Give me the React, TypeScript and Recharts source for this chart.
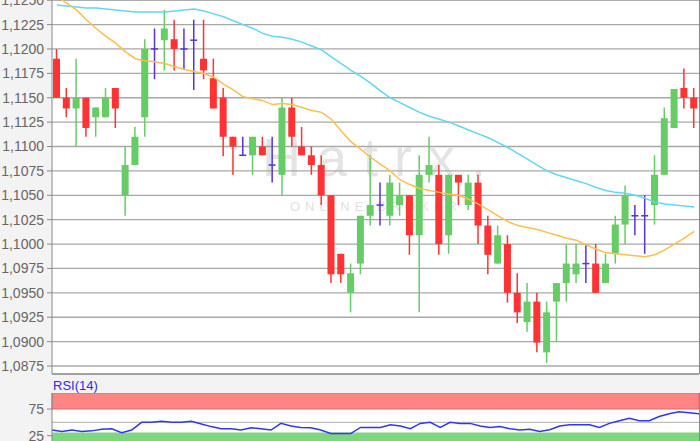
import React from "react";
import {
  Bar,
  CartesianGrid,
  ComposedChart,
  Line,
  ReferenceArea,
  ReferenceLine,
  XAxis,
  YAxis,
} from "recharts";

// candle-by-candle OHLC
const open = [
  1.119, 1.115, 1.1139, 1.115, 1.113, 1.113, 1.116, 1.105, 1.1081, 1.113,
  1.12, 1.1209, 1.121, 1.12, 1.1209, 1.119, 1.117, 1.115, 1.111, 1.1091,
  1.1091, 1.11, 1.1081, 1.1071, 1.114, 1.11, 1.1091, 1.1081, 1.105, 1.099,
  1.095, 1.098, 1.1029, 1.104, 1.1029, 1.104, 1.105, 1.1009, 1.1071, 1.1071,
  1.1009, 1.1071, 1.104, 1.1063, 1.1019, 1.098, 1.1, 1.095, 1.092, 1.0941,
  1.0889, 1.0941, 1.096, 1.0969, 1.098, 1.098, 1.096, 1.099, 1.102, 1.1029,
  1.1029, 1.104, 1.1071, 1.1119, 1.116, 1.115,
];
const high = [
  1.12, 1.116, 1.119, 1.115, 1.114, 1.116, 1.116, 1.11, 1.112, 1.121,
  1.1221, 1.124, 1.123, 1.1221, 1.123, 1.123, 1.119, 1.116, 1.111, 1.111,
  1.111, 1.111, 1.111, 1.115, 1.115, 1.112, 1.11, 1.1091, 1.105, 1.099,
  1.098, 1.1029, 1.1091, 1.1063, 1.1071, 1.1063, 1.105, 1.1091, 1.111, 1.1081,
  1.1071, 1.1071, 1.1071, 1.1071, 1.1029, 1.1019, 1.1009, 1.097, 1.096, 1.095,
  1.0941, 1.096, 1.1, 1.1, 1.1, 1.1, 1.099, 1.1029, 1.106, 1.104,
  1.105, 1.1091, 1.114, 1.1159, 1.118, 1.116,
];
const low = [
  1.115, 1.113, 1.11, 1.111, 1.111, 1.113, 1.1119, 1.1029, 1.1081, 1.111,
  1.1169, 1.1178, 1.1178, 1.1179, 1.1158, 1.1169, 1.1139, 1.109, 1.1071, 1.1091,
  1.1071, 1.1091, 1.1063, 1.105, 1.11, 1.1091, 1.1071, 1.104, 1.096, 1.096,
  1.093, 1.0969, 1.1019, 1.1019, 1.1019, 1.1029, 1.0989, 1.093, 1.1063, 1.0989,
  1.099, 1.104, 1.1035, 1.1, 1.0969, 1.098, 1.094, 1.0919, 1.091, 1.0889,
  1.0878, 1.09, 1.0941, 1.096, 1.096, 1.095, 1.096, 1.098, 1.1, 1.1009,
  1.099, 1.102, 1.1071, 1.1119, 1.1139, 1.1119,
];
const close = [
  1.115, 1.1139, 1.115, 1.1119, 1.114, 1.115, 1.1139, 1.1081, 1.111, 1.12,
  1.12, 1.1221, 1.12, 1.12, 1.1209, 1.1178, 1.1139, 1.111, 1.11, 1.1091,
  1.111, 1.1091, 1.1081, 1.114, 1.111, 1.1091, 1.1081, 1.105, 1.0969, 1.0969,
  1.097, 1.1029, 1.104, 1.104, 1.1063, 1.105, 1.1009, 1.1071, 1.1081, 1.1,
  1.1071, 1.1063, 1.1063, 1.1019, 1.0989, 1.1009, 1.095, 1.093, 1.0941, 1.0899,
  1.093, 1.096, 1.098, 1.098, 1.098, 1.095, 1.098, 1.102, 1.105, 1.1029,
  1.1029, 1.1071, 1.1129, 1.1159, 1.115, 1.1139,
];

// moving averages (orange = fast, cyan = slow)
const maFast = [
  1.1254, 1.1247, 1.124, 1.123, 1.1221, 1.1213, 1.1206, 1.1197, 1.119, 1.1188,
  1.1187, 1.1185, 1.1182, 1.1179, 1.1177, 1.1175, 1.1171, 1.1164, 1.1158, 1.1151,
  1.1149, 1.1147, 1.1143, 1.1144, 1.1143, 1.114, 1.1137, 1.1135, 1.1128, 1.1116,
  1.1105, 1.1097, 1.1089, 1.1082, 1.1075, 1.1066, 1.1061, 1.1057, 1.1055, 1.1053,
  1.1051, 1.105, 1.1046, 1.1041, 1.1035, 1.1029, 1.1023, 1.1019, 1.1017, 1.1015,
  1.1012, 1.1009, 1.1006, 1.1004, 1.0999, 1.0995, 1.0991, 1.099, 1.0989, 1.0988,
  1.0987, 1.0989, 1.0994, 1.1, 1.1006, 1.1013,
];
const maSlow = [
  1.1245, 1.1244, 1.1243, 1.1242, 1.1242, 1.1241, 1.124, 1.1239, 1.1238, 1.1238,
  1.1238, 1.1238, 1.1239, 1.124, 1.1241, 1.1239, 1.1236, 1.1233, 1.1229, 1.1225,
  1.1221, 1.1216, 1.1213, 1.1212, 1.121, 1.1207, 1.1203, 1.1199, 1.1192, 1.1185,
  1.1178, 1.1172, 1.1165, 1.1157, 1.115, 1.1145, 1.114, 1.1135, 1.1131, 1.1128,
  1.1125, 1.1121, 1.1117, 1.1113, 1.1109, 1.1104, 1.1099, 1.1093, 1.1087, 1.1081,
  1.1075, 1.1071, 1.1068, 1.1065, 1.1062, 1.1058, 1.1055, 1.1053, 1.1052, 1.105,
  1.1047, 1.1043, 1.1041, 1.104, 1.1039, 1.1038,
];

const rsi = [
  35.6, 33, 35.6, 33, 34, 37, 38, 30.5, 35.6, 50,
  50, 52, 50, 50, 52, 47, 42, 38, 38, 35.6,
  40, 38, 35.6, 48, 43, 40.5, 40, 35.6, 29, 29,
  29, 40.5, 40.5, 40.5, 45.6, 43, 38, 48, 50, 40.5,
  50, 48, 48, 43, 40.5, 42, 38, 35.6, 37, 33,
  36, 43, 45.6, 45.6, 45.6, 40.5, 48, 53, 57.6, 53,
  53, 60.8, 66, 70, 68, 66,
];

const priceTicks = [
  1.0875, 1.09, 1.0925, 1.095, 1.0975, 1.1, 1.1025, 1.105, 1.1075, 1.11,
  1.1125, 1.115, 1.1175, 1.12, 1.1225, 1.125,
];
const rsiTicks = [25, 75];

const data = open.map((o, i) => ({
  n: i + 1,
  open: o,
  high: high[i],
  low: low[i],
  close: close[i],
  maFast: maFast[i],
  maSlow: maSlow[i],
  rsi: rsi[i],
}));

const UP = "#66cc66";
const DOWN = "#ff3333";
const DOJI = "#5533dd";
const FONT = '"Liberation Sans", Arial, sans-serif';

const fmtPrice = (v: number) => v.toFixed(4).replace(".", ",");

const Candle = (props: any) => {
  const { x, y, width, height, payload } = props;
  const { open: o, close: c, high: h, low: l } = payload;
  const top = Math.min(y, y + height);
  const span = Math.abs(height);
  const k = h - l > 0 ? span / (h - l) : 0;
  const yOf = (v: number) => top + (h - v) * k;
  const cx = x + width / 2;
  const color = c > o ? UP : c < o ? DOWN : DOJI;
  const bTop = yOf(Math.max(o, c));
  const bBot = yOf(Math.min(o, c));
  return (
    <g>
      <line x1={cx} x2={cx} y1={top} y2={top + span} stroke={color} strokeWidth={1.5} />
      {c === o ? (
        <line x1={x} x2={x + width} y1={bTop} y2={bTop} stroke={color} strokeWidth={1.5} />
      ) : (
        <rect x={x} y={bTop} width={width} height={Math.max(bBot - bTop, 1)} fill={color} />
      )}
    </g>
  );
};

export default function App() {
  return (
    <div
      style={{
        position: "absolute",
        left: 0,
        top: 0,
        width: 700,
        height: 441,
        overflow: "hidden",
        background: "#f3f3f3",
        fontFamily: FONT,
      }}
    >
      {/* plot backgrounds */}
      <div
        style={{
          position: "absolute",
          left: 52,
          top: 0,
          width: 647,
          height: 374,
          background: "#fff",
          borderRight: "1px solid #888",
        }}
      />
      <div
        style={{
          position: "absolute",
          left: 52,
          top: 393,
          width: 647,
          height: 48,
          background: "#fff",
          borderRight: "1px solid #888",
        }}
      />

      {/* watermark */}
      <svg width={700} height={374} style={{ position: "absolute", left: 0, top: 0 }}>
        <text x={262} y={176} fontSize={54} fill="#e4e4e4" letterSpacing={16} fontFamily={FONT}>
          Hatrx.
        </text>
        <text x={290} y={211} fontSize={13} fill="#e2e2e2" letterSpacing={5} fontFamily={FONT}>
          ONLINE BROKER
        </text>
      </svg>

      <div style={{ position: "absolute", left: 0, top: 0 }}>
        <ComposedChart width={700} height={375} data={data} margin={{ top: 0, right: 1, bottom: 0, left: 0 }}>
          <CartesianGrid vertical={false} stroke="#a8a8a8" strokeWidth={1.3} />
          <XAxis dataKey="n" tick={false} tickLine={false} height={1} axisLine={{ stroke: "#888" }} />
          <YAxis
            domain={[1.08668, 1.12502]}
            allowDataOverflow
            ticks={priceTicks}
            interval={0}
            tickFormatter={fmtPrice}
            width={52}
            tickSize={5}
            tickMargin={3}
            tick={{ fontSize: 14, fill: "#666", fontFamily: FONT }}
            tickLine={{ stroke: "#888" }}
            axisLine={{ stroke: "#888" }}
          />
          <Bar dataKey={(d: any) => [d.low, d.high]} shape={Candle} barSize={7} isAnimationActive={false} />
          <Line dataKey="maSlow" stroke="#5fd8f5" strokeWidth={1.5} dot={false} isAnimationActive={false} />
          <Line dataKey="maFast" stroke="#ffbe4d" strokeWidth={1.5} dot={false} isAnimationActive={false} />
        </ComposedChart>
      </div>

      <div style={{ position: "absolute", left: 53, top: 378, fontSize: 13, color: "#2b2bf0" }}>RSI(14)</div>

      <div style={{ position: "absolute", left: 0, top: 393 }}>
        <ComposedChart width={700} height={56} data={data} margin={{ top: 0, right: 1, bottom: 0, left: 0 }}>
          <XAxis dataKey="n" hide />
          <YAxis
            domain={[0, 105]}
            allowDataOverflow
            ticks={rsiTicks}
            interval={0}
            width={52}
            tickSize={5}
            tickMargin={3}
            tick={{ fontSize: 14, fill: "#666", fontFamily: FONT }}
            tickLine={{ stroke: "#888" }}
            axisLine={{ stroke: "#888" }}
          />
          <ReferenceArea y1={75} y2={105} fill="#ff8585" fillOpacity={1} stroke="#dd6b6b" />
          <ReferenceArea y1={0} y2={31} fill="#80d580" fillOpacity={1} stroke="none" />
          <ReferenceLine y={50} stroke="#b0b0b0" />
          <Line dataKey="rsi" stroke="#3333ff" strokeWidth={1.5} dot={false} isAnimationActive={false} />
        </ComposedChart>
      </div>
    </div>
  );
}
